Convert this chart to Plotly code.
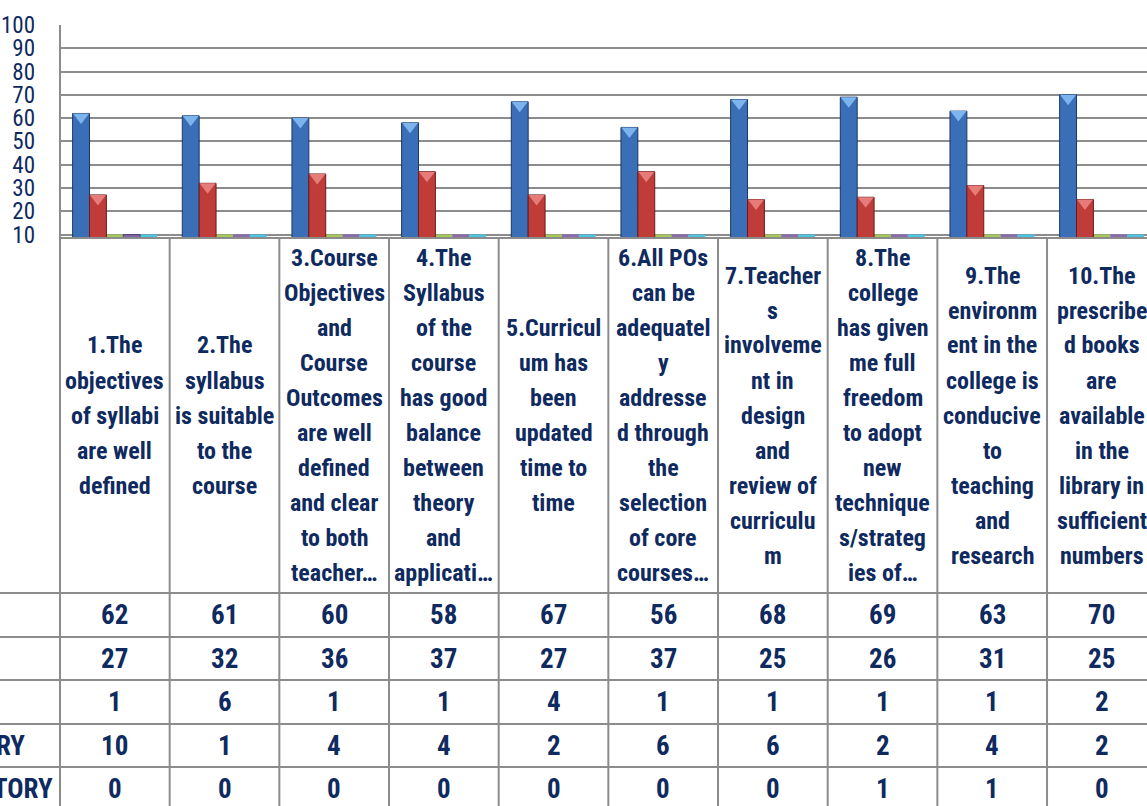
import plotly.graph_objects as go

# ---------------- data ----------------
categories = [
    "1.The objectives of syllabi are well defined",
    "2.The syllabus is suitable to the course",
    "3.Course Objectives and Course Outcomes are well defined and clear to both teacher…",
    "4.The Syllabus of the course has good balance between theory and applicati…",
    "5.Curriculum has been updated time to time",
    "6.All POs can be adequately addressed through the selection of core courses…",
    "7.Teachers involvement in design and review of curriculum",
    "8.The college has given me full freedom to adopt new techniques/strategies of…",
    "9.The environment in the college is conducive to teaching and research",
    "10.The prescribed books are available in the library in sufficient numbers",
]
category_lines = [
    ["1.The", "objectives", "of syllabi", "are well", "defined"],
    ["2.The", "syllabus", "is suitable", "to the", "course"],
    ["3.Course", "Objectives", "and", "Course", "Outcomes", "are well", "defined", "and clear", "to both", "teacher…"],
    ["4.The", "Syllabus", "of the", "course", "has good", "balance", "between", "theory", "and", "applicati…"],
    ["5.Curricul", "um has", "been", "updated", "time to", "time"],
    ["6.All POs", "can be", "adequatel", "y", "addresse", "d through", "the", "selection", "of core", "courses…"],
    ["7.Teacher", "s", "involveme", "nt in", "design", "and", "review of", "curriculu", "m"],
    ["8.The", "college", "has given", "me full", "freedom", "to adopt", "new", "technique", "s/strateg", "ies of…"],
    ["9.The", "environm", "ent in the", "college is", "conducive", "to", "teaching", "and", "research"],
    ["10.The", "prescribe", "d books", "are", "available", "in the", "library in", "sufficient", "numbers"],
]
series_1 = [62, 61, 60, 58, 67, 56, 68, 69, 63, 70]
series_2 = [27, 32, 36, 37, 27, 37, 25, 26, 31, 25]
series_3 = [1, 6, 1, 1, 4, 1, 1, 1, 1, 2]
series_4 = [10, 1, 4, 4, 2, 6, 6, 2, 4, 2]
series_5 = [0, 0, 0, 0, 0, 0, 0, 1, 1, 0]
series_values = [series_1, series_2, series_3, series_4, series_5]
row_headers = ["", "", "", "RY", "TORY"]   # only visible tails of the cropped row names
y_tick_values = [10, 20, 30, 40, 50, 60, 70, 80, 90, 100]

# ---------------- style ----------------
W, H = 1147, 806
PLOT_L, PLOT_T, PLOT_B = 60, 25, 238
CAT_W = 109.67
Y_MIN, Y_MAX = 8.5, 100
GAP = 0.23
FONT = "Noto Sans Condensed, Noto Sans ExtraCondensed, Roboto Condensed, DejaVu Sans Condensed, Liberation Sans"
NAVY = "#0F2A5F"
GRID = "#8C8C8C"
fills = ["#3A6FB7", "#C03C39", "#9BBB59", "#8064A2", "#4BACC6"]
outlines = ["#1B3867", "#6B1C1C", "#6E8A3A", "#574374", "#2F7F96"]
floor_cols = ["#6E7F97", "#9E4E4E", "#A6C85A", "#8A6BB0", "#4CC3E0"]
cap_cols = ["#7DB4EE", "#E67C7A", "#C4DC8C", "#A890C8", "#8AD2E6"]
CAP_SIZE = 14
CAP_DROP = 1.5   # in axis units, so the cap's top edge sits on the bar's top

plot_h = PLOT_B - PLOT_T
def py2paper(py):
    return (PLOT_B - py) / plot_h
def px2paper(px):
    return (px - PLOT_L) / (W - PLOT_L)

LABEL_ROW_TOP, LABEL_ROW_BOT = 238, 593
value_row_lines = [593, 637, 680, 724, 767, 811]
LINE_SP = 35

def tfont(size):
    return dict(family=FONT, size=size, color=NAVY, weight="bold")

x_idx = list(range(len(categories)))
fig = go.Figure()

# floor strips (Excel shows values below axis min as flat floors)
for k, vals in enumerate(series_values):
    fig.add_trace(go.Bar(
        x=x_idx, y=[10 - Y_MIN] * len(vals), base=Y_MIN,
        marker=dict(color=floor_cols[k], line=dict(width=0)),
        offsetgroup=str(k), showlegend=False, hoverinfo="skip"))
for k, vals in enumerate(series_values):
    fig.add_trace(go.Bar(
        x=x_idx, y=vals, name=f"Series {k+1}",
        marker=dict(color=fills[k], line=dict(color=outlines[k], width=1)),
        offsetgroup=str(k), showlegend=False))
# light bevel caps on top of bars that rise above the axis floor
for k, vals in enumerate(series_values):
    cap_y = [v - CAP_DROP if v > 10 + CAP_DROP else None for v in vals]
    fig.add_trace(go.Scatter(
        x=x_idx, y=cap_y, mode="markers", offsetgroup=str(k),
        marker=dict(symbol="triangle-down", size=CAP_SIZE, color=cap_cols[k],
                    line=dict(width=0)),
        showlegend=False, hoverinfo="skip", cliponaxis=True))

shapes = []
shapes.append(dict(type="line", xref="paper", yref="paper", x0=0, x1=0,
                   y0=1, y1=py2paper(H + 5), line=dict(color=GRID, width=2)))
shapes.append(dict(type="line", xref="paper", yref="paper", x0=0, x1=1,
                   y0=0, y1=0, line=dict(color=GRID, width=2)))
for i in range(len(categories)):
    shapes.append(dict(type="line", xref="x", yref="paper", x0=i + 0.5, x1=i + 0.5,
                       y0=0, y1=py2paper(H + 5), line=dict(color=GRID, width=2)))
for ly in value_row_lines[:-1]:
    shapes.append(dict(type="line", xref="paper", yref="paper", x0=px2paper(0), x1=1,
                       y0=py2paper(ly), y1=py2paper(ly), line=dict(color=GRID, width=2)))

annotations = []
label_center = (LABEL_ROW_TOP + LABEL_ROW_BOT) / 2
for i, lines in enumerate(category_lines):
    n = len(lines)
    for j, t in enumerate(lines):
        cy = label_center + (j - (n - 1) / 2) * LINE_SP
        annotations.append(dict(xref="x", yref="paper", x=i, y=py2paper(cy), text=t,
                                showarrow=False, xanchor="center", yanchor="middle",
                                font=tfont(24)))
for r, vals in enumerate(series_values):
    cy = (value_row_lines[r] + value_row_lines[r + 1]) / 2
    for i, v in enumerate(vals):
        annotations.append(dict(xref="x", yref="paper", x=i, y=py2paper(cy), text=str(v),
                                showarrow=False, xanchor="center", yanchor="middle",
                                font=tfont(27)))
    if row_headers[r]:
        right_px = 27 if r == 3 else 55
        annotations.append(dict(xref="paper", yref="paper", x=px2paper(right_px), y=py2paper(cy),
                                text=row_headers[r], showarrow=False, xanchor="right",
                                yanchor="middle", font=tfont(27)))

fig.update_layout(
    width=W, height=H, autosize=False,
    margin=dict(l=PLOT_L, r=0, t=PLOT_T, b=H - PLOT_B, pad=0),
    paper_bgcolor="white", plot_bgcolor="white",
    barmode="group", bargap=GAP, bargroupgap=0,
    scattermode="group", scattergap=GAP,
    xaxis=dict(range=[-0.5, -0.5 + (W - PLOT_L) / CAT_W], showticklabels=False,
               showgrid=False, zeroline=False, showline=False, fixedrange=True,
               automargin=False),
    yaxis=dict(range=[Y_MIN, Y_MAX], tickvals=y_tick_values,
               ticktext=[str(v) for v in y_tick_values],
               showgrid=True, gridcolor=GRID, gridwidth=2, zeroline=False,
               showline=False, ticks="", ticklabelstandoff=24, automargin=False,
               tickfont=dict(family=FONT, size=23, color=NAVY)),
    shapes=shapes, annotations=annotations, showlegend=False,
)

fig.write_html("out.html", config={"displayModeBar": False},
               post_script="document.body.style.margin='0';document.body.style.padding='0';")
